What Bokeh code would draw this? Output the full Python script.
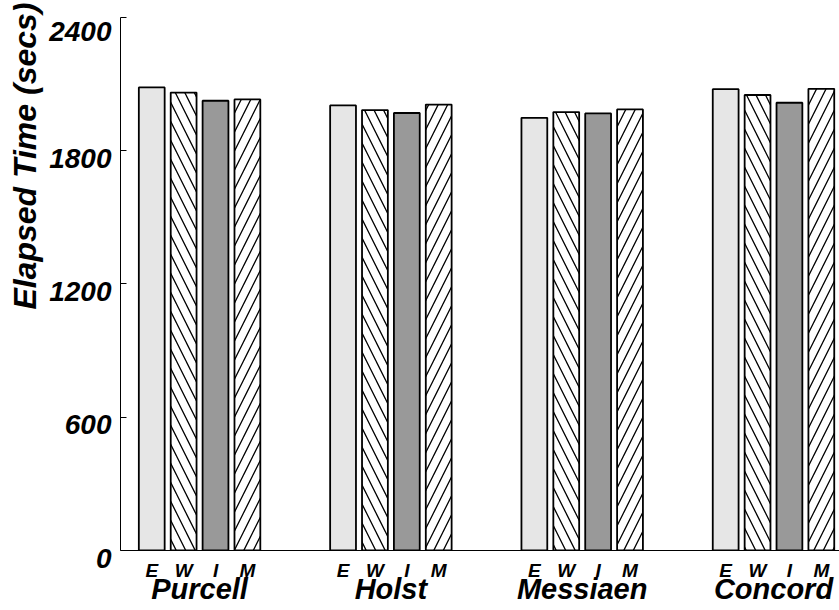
from bokeh.plotting import figure
from bokeh.models import Range1d, FixedTicker, LinearAxis, Title
from bokeh.embed import file_html
from bokeh.resources import INLINE

# ---- data ----
groups = ["Purcell", "Holst", "Messiaen", "Concord"]
variants = ["E", "W", "I", "M"]
E_vals = [2085, 2004, 1948, 2077]
W_vals = [2062, 1983, 1974, 2051]
I_vals = [2025, 1970, 1968, 2016]
M_vals = [2031, 2008, 1986, 2079]
y_ticks = [0, 600, 1200, 1800, 2400]
y_label = "Elapsed Time (secs)"

series = {"E": E_vals, "W": W_vals, "I": I_vals, "M": M_vals}

# ---- style ----
FONT = "Liberation Sans"
styles = {
    "E": dict(fill_color="#e6e6e6", hatch_pattern=None),
    "W": dict(fill_color="white", hatch_pattern="\\"),
    "I": dict(fill_color="#999999", hatch_pattern=None),
    "M": dict(fill_color="white", hatch_pattern="/"),
}
gap = 2
step = len(variants) + gap

p = figure(width=839, height=610, output_backend="svg", toolbar_location=None,
           x_range=Range1d(-0.48, 22.07), y_range=Range1d(0, 2476.5),
           x_axis_location=None, y_axis_location="left",
           min_border_left=120, min_border_right=0, min_border_top=0,
           min_border_bottom=60)
p.outline_line_color = None
p.xgrid.visible = False
p.ygrid.visible = False

sub_centers = []
sub_labels = {}
for s, v in enumerate(variants):
    xs = [g * step + s + 0.5 for g in range(len(groups))]
    for x in xs:
        sub_centers.append(x)
        sub_labels[x] = v
    st = styles[v]
    kw = {}
    if st["hatch_pattern"]:
        kw = dict(hatch_pattern=st["hatch_pattern"], hatch_color="black",
                  hatch_scale=19, hatch_weight=1.3)
    p.vbar(x=xs, top=series[v], bottom=0, width=0.81,
           fill_color=st["fill_color"], line_color="black", line_width=1.8, **kw)

group_centers = [g * step + len(variants) / 2 for g in range(len(groups))]
group_labels = {c: n for c, n in zip(group_centers, groups)}

# y axis
ya = p.yaxis[0]
ya.ticker = FixedTicker(ticks=y_ticks)
ya.bounds = (0, 2400)
ya.major_tick_in = 6
ya.major_tick_out = 0
ya.minor_tick_in = 0
ya.minor_tick_out = 0
ya.axis_line_color = "black"
ya.major_tick_line_color = "black"
ya.major_label_standoff = 9
# label sits a little below its tick, as in the reference
ya.major_label_overrides = {t: "\n" + str(t) for t in y_ticks}
ya.major_label_text_line_height = 0.5
ya.major_label_text_font = FONT
ya.major_label_text_font_style = "bold italic"
ya.major_label_text_font_size = "28px"
ya.major_label_text_color = "black"

p.add_layout(Title(text=y_label, align="right", standoff=8, offset=2,
                   text_font=FONT,
                   text_font_style="bold italic", text_font_size="32px",
                   text_color="black"), "left")

sub_axis = LinearAxis(ticker=FixedTicker(ticks=sorted(sub_centers)),
                      major_label_overrides=sub_labels,
                      major_tick_in=0, major_tick_out=0,
                      minor_tick_in=0, minor_tick_out=0,
                      axis_line_color="black",
                      major_label_standoff=9,
                      major_label_text_font=FONT,
                      major_label_text_font_style="bold italic",
                      major_label_text_font_size="19px",
                      major_label_text_color="black")
p.add_layout(sub_axis, "below")

grp_axis = LinearAxis(ticker=FixedTicker(ticks=group_centers),
                      major_label_overrides=group_labels,
                      major_tick_in=0, major_tick_out=0,
                      minor_tick_in=0, minor_tick_out=0,
                      axis_line_color=None,
                      major_label_standoff=-11,
                      major_label_text_font=FONT,
                      major_label_text_font_style="bold italic",
                      major_label_text_font_size="29px",
                      major_label_text_color="black")
p.add_layout(grp_axis, "below")

open("out.html", "w").write(file_html(p, INLINE))
